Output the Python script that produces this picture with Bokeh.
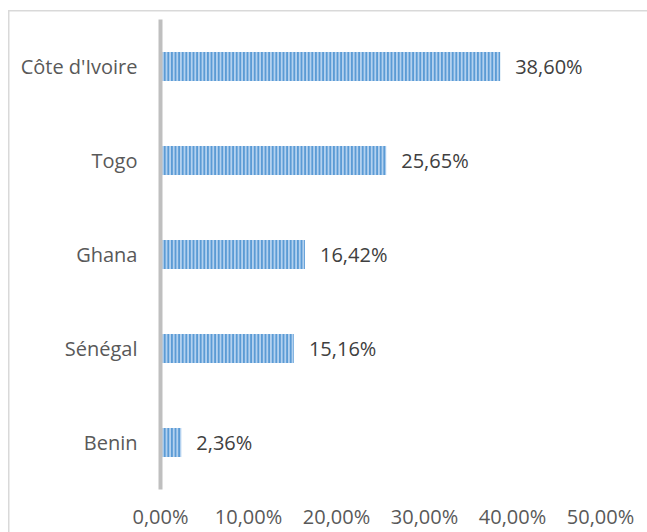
from bokeh.plotting import figure
from bokeh.models import ColumnDataSource, FixedTicker
from bokeh.core.properties import value
from bokeh.embed import file_html
from bokeh.resources import INLINE

countries = ["Côte d'Ivoire", "Togo", "Ghana", "Sénégal", "Benin"]
shares = [38.60, 25.65, 16.42, 15.16, 2.36]
share_labels = ["38,60%", "25,65%", "16,42%", "15,16%", "2,36%"]
x_ticks = [0, 10, 20, 30, 40, 50]
x_tick_labels = ["0,00%", "10,00%", "20,00%", "30,00%", "40,00%", "50,00%"]

FONT = "Open Sans"

src = ColumnDataSource(dict(country=countries, share=shares, label=share_labels))

p = figure(width=647, height=532, y_range=list(reversed(countries)), x_range=(0, 50),
           output_backend="svg", toolbar_location=None,
           min_border_left=160, min_border_right=47, min_border_top=19, min_border_bottom=43)
p.outline_line_color = None
p.background_fill_color = "white"
p.border_fill_color = None
p.styles = {
    "background-color": "white",
    "background-image": "linear-gradient(#D9D9D9, #D9D9D9), linear-gradient(#D9D9D9, #D9D9D9)",
    "background-size": "1.5px 100%, 100% 1.5px",
    "background-position": "8px 10px, 8px 10px",
    "background-repeat": "no-repeat",
}

p.hbar(y="country", right="share", left=0, height=0.31, source=src,
       fill_color="#B3D1EF", line_color=None,
       hatch_pattern="vertical_line", hatch_color="#5B9BD5",
       hatch_weight=2.0, hatch_scale=3.6)

p.text(x="share", y="country", text="label", source=src, x_offset=15,
       text_baseline="middle", text_align="left", text_font=value(FONT),
       text_font_size="20px", text_color="#404040")

p.xgrid.visible = False
p.ygrid.visible = False

p.xaxis.ticker = FixedTicker(ticks=x_ticks)
p.xaxis.major_label_overrides = {t: l for t, l in zip(x_ticks, x_tick_labels)}
p.xaxis.axis_line_color = None
p.xaxis.major_tick_line_color = None
p.xaxis.minor_tick_line_color = None
p.xaxis.major_label_standoff = 7
p.xaxis.major_label_text_font = FONT
p.xaxis.major_label_text_font_size = "20px"
p.xaxis.major_label_text_color = "#595959"

p.yaxis.axis_line_color = "#BFBFBF"
p.yaxis.axis_line_width = 4
p.yaxis.major_tick_line_color = None
p.yaxis.minor_tick_line_color = None
p.yaxis.major_label_standoff = 17
p.yaxis.major_label_text_font = FONT
p.yaxis.major_label_text_font_size = "20px"
p.yaxis.major_label_text_color = "#595959"

open("out.html", "w").write(file_html(p, INLINE))
